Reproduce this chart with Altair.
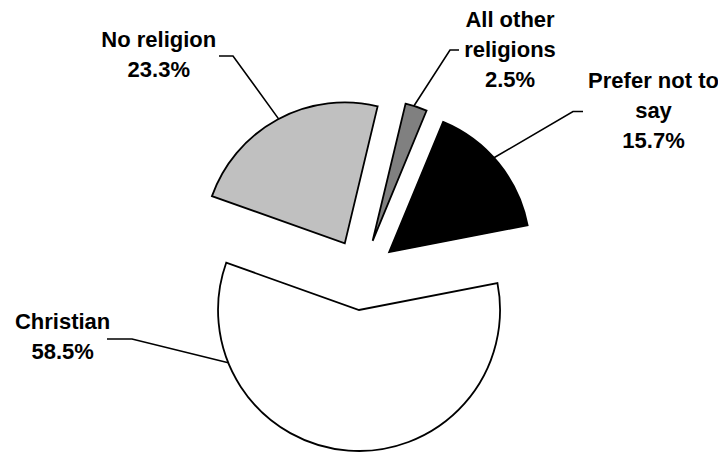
import math
import altair as alt
import pandas as pd

# ---- data ----
categories = ["Christian", "No religion", "All other religions", "Prefer not to say"]
values = [58.5, 23.3, 2.5, 15.7]
label_names = ["Christian", "No religion", "All other\nreligions", "Prefer not to\nsay"]

# ---- style / layout ----
colors = ["#FFFFFF", "#C0C0C0", "#808080", "#000000"]
W, H = 710, 446
CX, CY = 353.7, 266.6      # pie centre (pixels)
R = 141                     # pie radius
EXPLODE = 35.5              # slice explosion distance
START_DEG = 79              # first slice angle (clockwise from 12 o'clock)
label_pos = [(54.6, 321.3), (150.8, 38.7), (502, 18.7), (645.5, 80.3)]
leader_elbows = [[(99, 331), (124, 331)], [(211, 48), (225, 48)],
                 [(451, 42), (442, 42)], [(575, 103.5), (565, 103.5)]]
attach_deg = [248, 332, 17, 48]

total = sum(values)
rows, line_rows, text_rows = [], [], []
cum = 0.0
for i, (cat, v) in enumerate(zip(categories, values)):
    a0 = START_DEG + cum / total * 360
    a1 = a0 + v / total * 360
    cum += v
    mid = math.radians((a0 + a1) / 2)
    vx = CX + EXPLODE * math.sin(mid)
    vy = CY - EXPLODE * math.cos(mid)
    rows.append({"idx": i, "category": cat, "value": v, "vx": vx, "vy": vy})
    pts = list(leader_elbows[i])
    a = math.radians(attach_deg[i])
    pts.append((vx + R * math.sin(a), vy - R * math.cos(a)))
    for k, (px, py) in enumerate(pts):
        line_rows.append({"category": cat, "k": k, "px": px, "py": py})
    text_rows.append({"category": cat, "label": f"{label_names[i]}\n{v}%",
                      "tx": label_pos[i][0], "ty": label_pos[i][1]})

df = pd.DataFrame(rows)
df_lines = pd.DataFrame(line_rows)
df_text = pd.DataFrame(text_rows)

arcs = alt.Chart(df).mark_arc(stroke="black", strokeWidth=1.8, radius=R).encode(
    theta=alt.Theta("value:Q", stack=True,
                    scale=alt.Scale(range=[math.radians(START_DEG), math.radians(START_DEG) + 2 * math.pi])),
    order=alt.Order("idx:Q"),
    color=alt.Color("category:N", scale=alt.Scale(domain=categories, range=colors), legend=None),
    x=alt.X("vx:Q", scale=None),
    y=alt.Y("vy:Q", scale=None),
)

lines = alt.Chart(df_lines).mark_line(color="black", strokeWidth=1.6).encode(
    x=alt.X("px:Q", scale=None),
    y=alt.Y("py:Q", scale=None),
    detail="category:N",
    order=alt.Order("k:Q"),
)

texts = alt.Chart(df_text).mark_text(
    font="Liberation Sans", fontWeight="bold", fontSize=22, lineHeight=30,
    align="center", baseline="alphabetic", lineBreak="\n", color="black",
).encode(
    x=alt.X("tx:Q", scale=None),
    y=alt.Y("ty:Q", scale=None),
    text="label:N",
)

chart = alt.layer(arcs, lines, texts).properties(
    width=W, height=H, padding=0, autosize="none"
).configure_view(stroke=None)

chart.save("out.html", embed_options={"renderer": "svg", "actions": False})
